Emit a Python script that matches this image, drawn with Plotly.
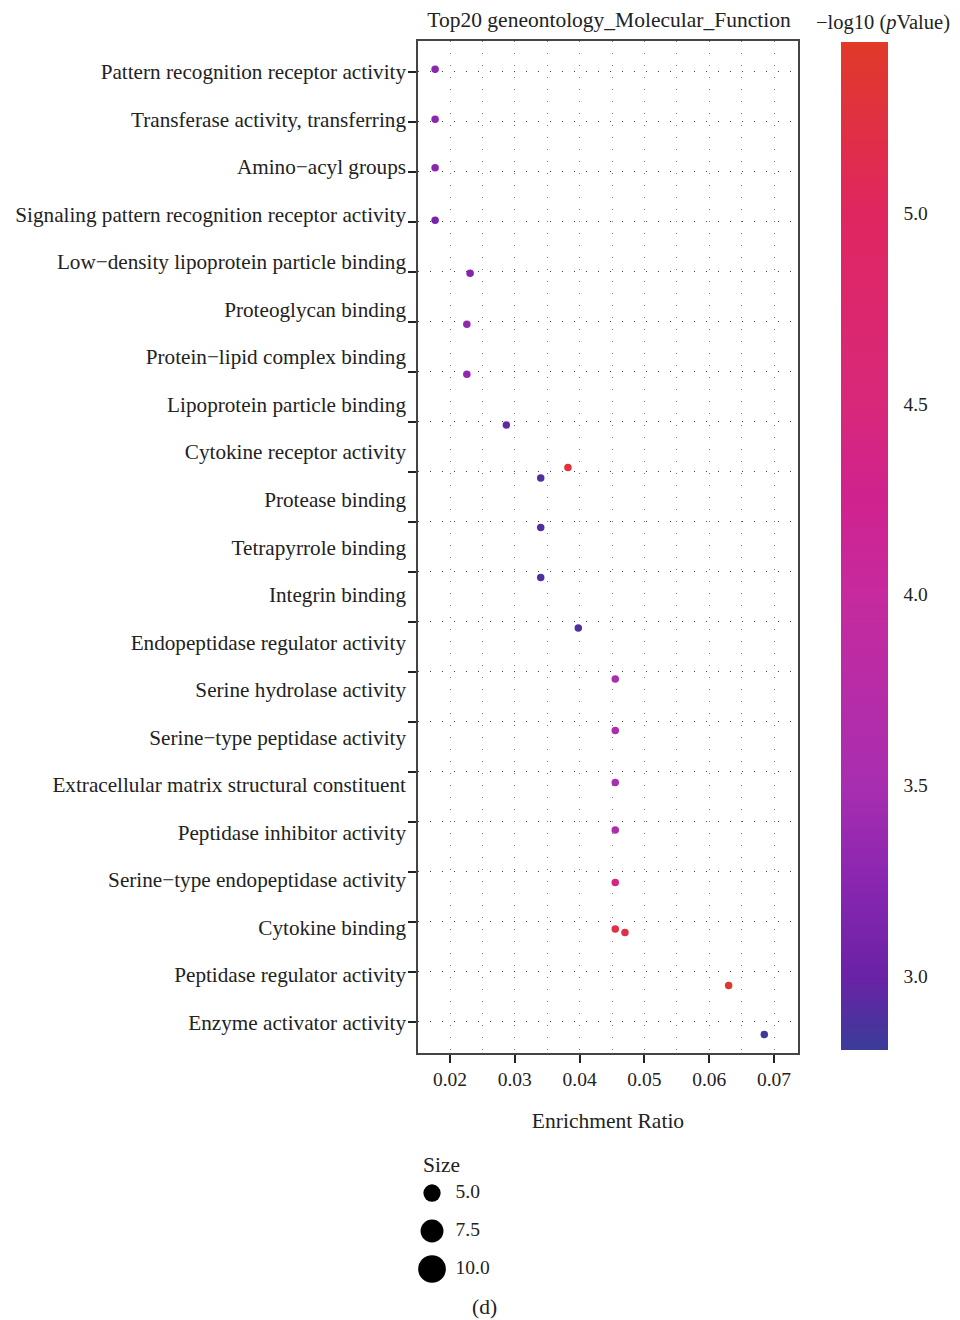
import numpy as np
import plotly.graph_objects as go

# ---------------- data ----------------
row_labels = [
    "Pattern recognition receptor activity",
    "Transferase activity, transferring",
    "Amino\u2212acyl groups",
    "Signaling pattern recognition receptor activity",
    "Low\u2212density lipoprotein particle binding",
    "Proteoglycan binding",
    "Protein\u2212lipid complex binding",
    "Lipoprotein particle binding",
    "Cytokine receptor activity",
    "Protease binding",
    "Tetrapyrrole binding",
    "Integrin binding",
    "Endopeptidase regulator activity",
    "Serine hydrolase activity",
    "Serine\u2212type peptidase activity",
    "Extracellular matrix structural constituent",
    "Peptidase inhibitor activity",
    "Serine\u2212type endopeptidase activity",
    "Cytokine binding",
    "Peptidase regulator activity",
    "Enzyme activator activity",
]
n_rows = 20  # category rows on the axis

enrichment_ratio = [0.0177, 0.0177, 0.0177, 0.0177, 0.0231, 0.0226, 0.0226, 0.0287,
                    0.0382, 0.0340, 0.0340, 0.0340, 0.0398, 0.0455, 0.0455, 0.0455,
                    0.0455, 0.0455, 0.0455, 0.0470, 0.0630, 0.0685]
point_row = [-0.05, 0.95, 1.92, 2.97, 4.03, 5.05, 6.05, 7.07,
             7.92, 8.13, 9.12, 10.12, 11.13, 12.15, 13.18, 14.22,
             15.17, 16.22, 17.15, 17.22, 18.28, 19.26]
neg_log10_p = [3.25, 3.25, 3.25, 3.10, 3.20, 3.30, 3.30, 2.95,
               5.30, 2.90, 2.90, 2.90, 2.88, 3.55, 3.55, 3.55,
               3.60, 4.40, 5.20, 5.20, 5.40, 2.82]
p_min, p_max = 2.806, 5.448
cbar_ticks = [3.0, 3.5, 4.0, 4.5, 5.0]

x_ticks = [0.02, 0.03, 0.04, 0.05, 0.06, 0.07]
size_values = [5.0, 7.5, 10.0]

# ---------------- styles / layout ----------------
FONT = "Liberation Serif"
TXT = 21.5
LBL = 21.2
NUM = 19.5
colorscale = [
    [0.000, "#3b3c99"],
    [0.073, "#6a22a6"],
    [0.168, "#8a26b0"],
    [0.263, "#a82eb0"],
    [0.452, "#c62a9e"],
    [0.546, "#d0228f"],
    [0.642, "#d8287a"],
    [0.831, "#e02660"],
    [1.000, "#e03a28"],
]

OFF = 8  # page body margin
W, H = 960, 1320
# target page pixel geometry
plot_l, plot_r, plot_t, plot_b = 418, 798, 41, 1053
cb_l, cb_r, cb_t, cb_len = 841, 888, 42, 1008
ML = plot_l - OFF
MR = W - (plot_r - OFF)
MT = plot_t - OFF
MB = 12
PW = W - ML - MR
PH = H - MT - MB


def px_x(x):
    return (x - OFF - ML) / PW


def px_y(y):
    return (H - MB - (y - OFF)) / PH


main_dom_bottom = px_y(plot_b)

fig = go.Figure()

fig.add_trace(go.Scatter(
    x=enrichment_ratio, y=point_row, mode="markers",
    marker=dict(size=7.5, color=neg_log10_p, colorscale=colorscale,
                cmin=p_min, cmax=p_max, line=dict(width=0), opacity=1,
                colorbar=dict(
                    x=px_x(cb_l), xanchor="left", xpad=0,
                    y=px_y(cb_t), yanchor="top", ypad=0,
                    thickness=cb_r - cb_l, lenmode="pixels", len=cb_len,
                    outlinewidth=0,
                    tickvals=cbar_ticks, ticktext=[f"{v:.1f}" for v in cbar_ticks],
                    ticks="outside", tickcolor="white", ticklen=12, tickwidth=2,
                    tickfont=dict(family=FONT, size=NUM, color="#222"),
                )),
    showlegend=False, hoverinfo="skip",
))

# size legend
sq = np.sqrt(size_values)
diam = 17.3 + (sq - sq[0]) / (sq[-1] - sq[0]) * (27.7 - 17.3)
fig.add_trace(go.Scatter(
    x=[0.123] * 3, y=list(range(3)), mode="markers",
    marker=dict(size=diam, color="#000000", line=dict(width=0), opacity=1),
    xaxis="x2", yaxis="y2", showlegend=False, hoverinfo="skip",
))
fig.add_trace(go.Scatter(
    x=[0.33] * 3, y=list(range(3)), mode="text",
    text=[f"{v:.1f}" for v in size_values], textposition="middle right",
    textfont=dict(family=FONT, size=NUM, color="#222"),
    xaxis="x2", yaxis="y2", showlegend=False, hoverinfo="skip",
))

label_pos = [i * 47.55 / 50 for i in range(len(row_labels))]

fig.update_layout(
    width=W, height=H,
    margin=dict(l=ML, r=MR, t=MT, b=MB, autoexpand=False),
    plot_bgcolor="white", paper_bgcolor="white",
    font=dict(family=FONT, size=TXT, color="#222"),
    title=dict(text="Top20 geneontology_Molecular_Function",
               x=(609 - OFF) / W, xanchor="center", y=1 - (19 - OFF) / H, yanchor="middle",
               font=dict(family=FONT, size=TXT, color="#222")),
    xaxis=dict(
        range=[0.02 - 32 / 6480, 0.07 + 24 / 6480],
        tickvals=x_ticks, ticktext=[f"{v:.2f}" for v in x_ticks],
        ticks="outside", ticklen=8, tickwidth=2, tickcolor="#222",
        showgrid=True, gridcolor="#777", gridwidth=1, griddash="1px,11px",
        minor=dict(tickvals=[0.015, 0.025, 0.035, 0.045, 0.055, 0.065],
                   showgrid=True, gridcolor="#777", gridwidth=1, griddash="1px,11px"),
        showline=True, mirror=True, linecolor="#444", linewidth=1.5,
        zeroline=False, automargin=False,
        tickfont=dict(family=FONT, size=NUM, color="#222"),
        title=dict(text="Enrichment Ratio", standoff=24,
                   font=dict(family=FONT, size=TXT, color="#222")),
        domain=[0, 1], anchor="y",
    ),
    yaxis=dict(
        range=[19.63, -0.614],
        tickmode="array", tickvals=label_pos, ticktext=row_labels,
        ticks="", showgrid=False, ticklabelstandoff=6,
        minor=dict(tickvals=list(range(n_rows)), ticks="outside", ticklen=8,
                   tickwidth=2, tickcolor="#222", showgrid=True,
                   gridcolor="#444", gridwidth=1, griddash="1px,11px"),
        showline=True, mirror=True, linecolor="#444", linewidth=1.5,
        zeroline=False, automargin=False,
        tickfont=dict(family=FONT, size=LBL, color="#222"),
        domain=[main_dom_bottom, 1], anchor="x",
    ),
    xaxis2=dict(domain=[0, 114 / PW], range=[0, 1], visible=False,
                anchor="y2", fixedrange=True, automargin=False),
    yaxis2=dict(domain=[px_y(1290), px_y(1175)], automargin=False,
                range=[2.553, -0.474], visible=False, anchor="x2", fixedrange=True),
    annotations=[
        dict(text="\u2212log10 (<i>p</i>Value)", xref="paper", yref="paper",
             x=px_x(883), y=px_y(9),
             xanchor="center", yanchor="top", showarrow=False,
             font=dict(family=FONT, size=20.5, color="#222")),
        dict(text="Size", xref="paper", yref="paper",
             x=px_x(421), y=px_y(1165),
             xanchor="left", yanchor="middle", showarrow=False,
             font=dict(family=FONT, size=TXT, color="#222")),
        dict(text="(d)", xref="paper", yref="paper",
             x=px_x(484), y=px_y(1307),
             xanchor="center", yanchor="middle", showarrow=False,
             font=dict(family=FONT, size=TXT, color="#222")),
    ],
)

fig.write_html("out.html")
